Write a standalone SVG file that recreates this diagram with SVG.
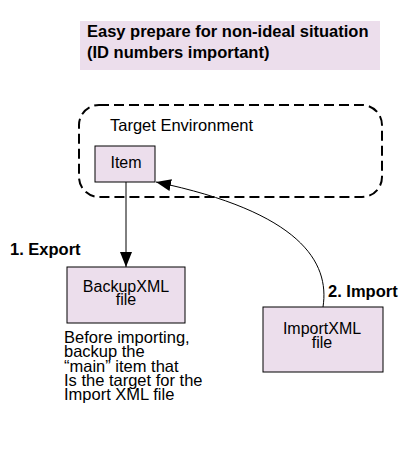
<svg xmlns="http://www.w3.org/2000/svg" width="419" height="467" viewBox="0 0 419 467">
<defs>
<style>
text{font-family:"Liberation Sans",Arial,sans-serif;fill:#000}
.box{fill:#ecdeec;stroke:#000;stroke-width:1}
.lbl{font-size:16px}
.note{font-size:16.5px}
.bold{font-size:16.5px;font-weight:bold}
.conn{fill:none;stroke:#000;stroke-width:1}
</style>
<marker id="arr" viewBox="0 0 15 12" refX="15" refY="6" markerWidth="15" markerHeight="12" markerUnits="userSpaceOnUse" orient="auto">
<path d="M0,0 L15,6 L0,12 Z" fill="#000"/>
</marker>
</defs>
<rect width="419" height="467" fill="#fff"/>
<g id="title">
<rect x="80" y="21" width="300" height="49" fill="#ecdeec"/>
<text class="bold" x="87" y="37">Easy prepare for non-ideal situation</text>
<text class="bold" x="87" y="58">(ID numbers important)</text>
</g>
<g id="target-environment">
<rect x="79" y="105" width="303" height="92" rx="20" ry="20" fill="none" stroke="#000" stroke-width="2" stroke-dasharray="10,5"/>
<text class="note" x="110" y="131">Target Environment</text>
</g>
<g id="item">
<rect class="box" x="95" y="146" width="60" height="36"/>
<text class="lbl" x="126" y="168" text-anchor="middle">Item</text>
</g>
<g id="backup">
<rect class="box" x="67" y="267" width="118" height="56"/>
<text class="lbl" x="126" y="292" text-anchor="middle">BackupXML</text>
<text class="lbl" x="126" y="305" text-anchor="middle">file</text>
</g>
<g id="import">
<rect class="box" x="263" y="307" width="120" height="65"/>
<text class="lbl" x="322" y="334" text-anchor="middle">ImportXML</text>
<text class="lbl" x="322" y="348" text-anchor="middle">file</text>
</g>
<g id="connectors">
<path class="conn" d="M126,182 L126,267" marker-end="url(#arr)"/>
<path class="conn" d="M323,307 C330,262 300,212 156,182" marker-end="url(#arr)"/>
</g>
<g id="labels">
<text class="bold" x="10" y="255">1. Export</text>
<text class="bold" x="328" y="297">2. Import</text>
<text class="note" x="64" y="343">Before importing,</text>
<text class="note" x="64" y="357">backup the</text>
<text class="note" x="64" y="372">“main” item that</text>
<text class="note" x="64" y="386">Is the target for the</text>
<text class="note" x="64" y="400">Import XML file</text>
</g>
</svg>
